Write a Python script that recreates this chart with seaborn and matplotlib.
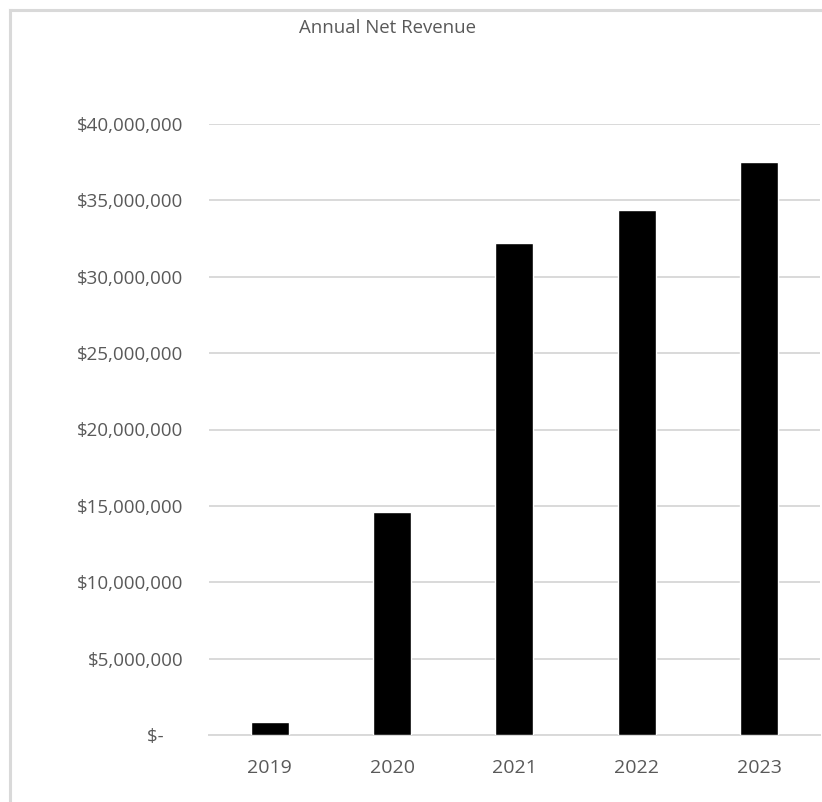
import matplotlib
matplotlib.use("Agg")
import matplotlib.pyplot as plt
import matplotlib.ticker as mticker
from matplotlib.lines import Line2D
import seaborn as sns
import pandas as pd

years = ["2019", "2020", "2021", "2022", "2023"]
revenue = [830000, 14620000, 32200000, 34400000, 37530000]
title = "Annual Net Revenue"

sns.set_theme(style="white")
plt.rcParams['font.family'] = ['Open Sans', 'DejaVu Sans']

TEXT = "#595959"
GRID = "#d9d9d9"
W, H = 822, 802
fig = plt.figure(figsize=(W / 100, H / 100), dpi=100)
ax = fig.add_axes([208.7 / W, 1 - 735 / H, (820.2 - 208.7) / W, (735 - 124) / H])

df = pd.DataFrame({"year": years, "revenue": revenue})
sns.barplot(data=df, x="year", y="revenue", color="black", saturation=1,
            width=0.31, ax=ax, zorder=3)

ax.set_ylim(0, 40000000)
ax.set_yticks(range(0, 40000001, 5000000))
ax.yaxis.set_major_formatter(mticker.FuncFormatter(
    lambda v, p: "$-    " if v == 0 else f"${v:,.0f}"))
ax.grid(axis="y", color=GRID, linewidth=1.4, zorder=0)
ax.set_axisbelow(True)
for s in ["top", "right", "left"]:
    ax.spines[s].set_visible(False)
ax.spines["bottom"].set_color(GRID)
ax.spines["bottom"].set_linewidth(1.4)
ax.set_xlabel("")
ax.set_ylabel("")
ax.tick_params(axis="y", length=0, pad=18.5, labelsize=13.5, labelcolor=TEXT)
ax.tick_params(axis="x", length=0, pad=17, labelsize=14, labelcolor=TEXT)

fig.text(387 / W, 1 - 28 / H, title, ha="center", va="center",
         fontsize=13.4, color=TEXT)

bx = 10 / W
by = 1 - 10 / H
fig.lines.append(Line2D([bx, bx], [-0.05, by], transform=fig.transFigure,
                        color=GRID, linewidth=2.2, solid_capstyle="projecting"))
fig.lines.append(Line2D([bx, 1.05], [by, by], transform=fig.transFigure,
                        color=GRID, linewidth=2.2, solid_capstyle="projecting"))

fig.savefig("out.png", dpi=100)
